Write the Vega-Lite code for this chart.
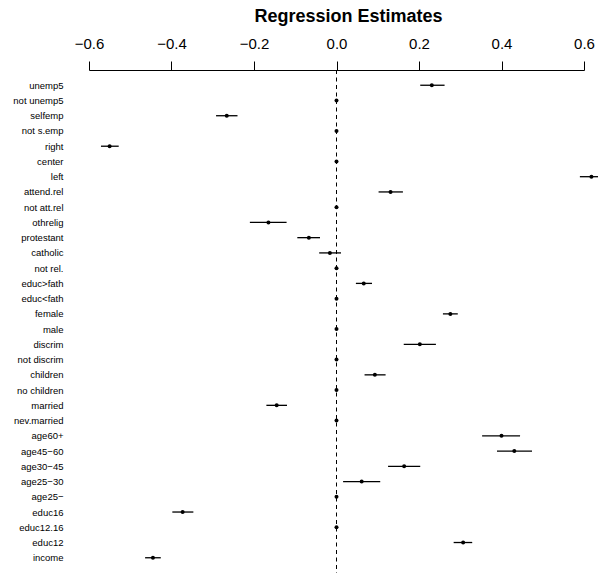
{
  "$schema": "https://vega.github.io/schema/vega-lite/v6.json",
  "width": 495,
  "height": 503,
  "autosize": {"type": "none"},
  "padding": {"left": 89, "top": 70, "right": 14, "bottom": 0},
  "title": {"text": "Regression Estimates", "fontSize": 18, "font": "Liberation Sans", "fontWeight": "bold", "anchor": "middle", "frame": "group", "dx": 12, "offset": 10, "color": "black"},
  "config": {"view": {"stroke": null}, "font": "Liberation Sans"},
  "datasets": {
    "est": [
      {"var": "unemp5", "est": 0.231, "lo": 0.203, "hi": 0.262},
      {"var": "not unemp5", "est": 0},
      {"var": "selfemp", "est": -0.266, "lo": -0.292, "hi": -0.240},
      {"var": "not s.emp", "est": 0},
      {"var": "right", "est": -0.55, "lo": -0.571, "hi": -0.528},
      {"var": "center", "est": 0},
      {"var": "left", "est": 0.618, "lo": 0.59, "hi": 0.648},
      {"var": "attend.rel", "est": 0.131, "lo": 0.102, "hi": 0.161},
      {"var": "not att.rel", "est": 0},
      {"var": "othrelig", "est": -0.165, "lo": -0.21, "hi": -0.121},
      {"var": "protestant", "est": -0.067, "lo": -0.095, "hi": -0.04},
      {"var": "catholic", "est": -0.016, "lo": -0.042, "hi": 0.011},
      {"var": "not rel.", "est": 0},
      {"var": "educ>fath", "est": 0.066, "lo": 0.047, "hi": 0.086},
      {"var": "educ<fath", "est": 0},
      {"var": "female", "est": 0.276, "lo": 0.258, "hi": 0.294},
      {"var": "male", "est": 0},
      {"var": "discrim", "est": 0.202, "lo": 0.163, "hi": 0.241},
      {"var": "not discrim", "est": 0},
      {"var": "children", "est": 0.093, "lo": 0.068, "hi": 0.119},
      {"var": "no children", "est": 0},
      {"var": "married", "est": -0.145, "lo": -0.17, "hi": -0.12},
      {"var": "nev.married", "est": 0},
      {"var": "age60+", "est": 0.4, "lo": 0.353, "hi": 0.445},
      {"var": "age45−60", "est": 0.431, "lo": 0.389, "hi": 0.474},
      {"var": "age30−45", "est": 0.164, "lo": 0.125, "hi": 0.203},
      {"var": "age25−30", "est": 0.061, "lo": 0.016, "hi": 0.106},
      {"var": "age25−", "est": 0},
      {"var": "educ16", "est": -0.373, "lo": -0.398, "hi": -0.347},
      {"var": "educ12.16", "est": 0},
      {"var": "educ12", "est": 0.307, "lo": 0.284, "hi": 0.329},
      {"var": "income", "est": -0.445, "lo": -0.464, "hi": -0.426}
    ],
    "zero": [{"z": 0}]
  },
  "layer": [
    {
      "data": {"name": "zero"},
      "mark": {"type": "rule", "color": "black", "strokeWidth": 1, "strokeDash": [4, 3.5]},
      "encoding": {
        "x": {
          "field": "z", "type": "quantitative",
          "scale": {"domain": [-0.6, 0.6], "nice": false, "zero": false},
          "axis": {
            "orient": "top", "values": [-0.6, -0.4, -0.2, 0, 0.2, 0.4, 0.6], "format": ".1f",
            "grid": false, "title": null, "domainColor": "black", "tickColor": "black",
            "tickSize": 9, "labelFontSize": 15, "labelColor": "black", "labelPadding": 10,
            "labelFlush": false, "labelOverlap": false, "labelFont": "Liberation Sans"
          }
        }
      }
    },
    {
      "data": {"name": "est"},
      "mark": {"type": "rule", "color": "black", "strokeWidth": 1.3},
      "encoding": {
        "y": {"field": "var", "type": "nominal", "sort": null,
          "scale": {"type": "point", "padding": 1.34,
            "domain": ["unemp5", "not unemp5", "selfemp", "not s.emp", "right", "center", "left", "attend.rel", "not att.rel", "othrelig", "protestant", "catholic", "not rel.", "educ>fath", "educ<fath", "female", "male", "discrim", "not discrim", "children", "no children", "married", "nev.married", "age60+", "age45−60", "age30−45", "age25−30", "age25−", "educ16", "educ12.16", "educ12", "income"]},
          "axis": {"orient": "left", "domain": false, "ticks": false, "tickSize": 0, "title": null, "labelFontSize": 9.5, "labelColor": "black", "labelPadding": 26, "labelFont": "Liberation Sans"}},
        "x": {"field": "lo", "type": "quantitative"},
        "x2": {"field": "hi"}
      }
    },
    {
      "data": {"name": "est"},
      "mark": {"type": "circle", "color": "black", "opacity": 1, "size": 16},
      "encoding": {
        "y": {"field": "var", "type": "nominal", "sort": null},
        "x": {"field": "est", "type": "quantitative"}
      }
    }
  ]
}
